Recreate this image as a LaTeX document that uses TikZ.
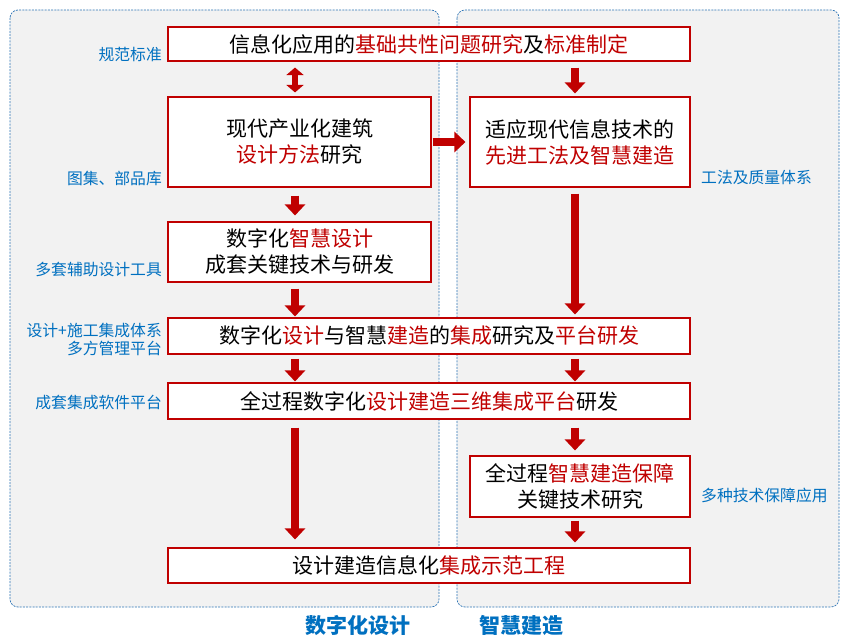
\documentclass[tikz,border=0pt]{standalone}
\usepackage{fontspec}
\setmainfont{Noto Sans CJK SC}
\usetikzlibrary{arrows.meta}
\definecolor{myred}{HTML}{C00000}
\definecolor{myblue}{HTML}{0070C0}
\definecolor{panelfill}{HTML}{F2F2F2}
\definecolor{panelline}{HTML}{2E75B6}
\newcommand\hl[1]{\textcolor{myred}{#1}}
\begin{document}
\begin{tikzpicture}[x=1pt,y=-1pt,
  panel/.style={draw=panelline, fill=panelfill, line width=0.7pt, dash pattern=on 2pt off 1.2pt, rounded corners=8pt},
  box/.style={draw=myred, fill=white, line width=1.1pt, inner sep=0pt, align=center,
     font=\fontsize{21}{26}\selectfont},
  side/.style={text=myblue, inner sep=0pt, font=\fontsize{15.8}{18}\selectfont},
  title/.style={text=myblue, inner sep=0pt, font=\fontsize{21}{24}\selectfont\bfseries},
  bigarrow/.style={draw=myred, line width=8pt, -{Triangle[width=20pt,length=11pt]}},
  dblarrow/.style={draw=myred, line width=6pt, {Triangle[width=17pt,length=7.5pt]}-{Triangle[width=17pt,length=7.5pt]}}
]
\useasboundingbox (0,0) rectangle (850,644);
\fill[white] (0,0) rectangle (850,644);
% panels
\draw[panel] (10,10) rectangle (439,607);
\draw[panel] (457,10) rectangle (839,607);
% columns
\coordinate (colL) at (295,0);
\coordinate (colR) at (575,0);
% boxes
\node[box, minimum width=522pt, minimum height=34pt] (b1) at (429,44)
  {信息化应用的\hl{基础共性问题研究}及\hl{标准制定}};
\node[box, minimum width=263pt, minimum height=90pt] (b2) at (299.5,142)
  {现代产业化建筑\\\hl{设计方法}研究};
\node[box, minimum width=220pt, minimum height=90pt] (b3) at (580,142)
  {适应现代信息技术的\\\hl{先进工法及智慧建造}};
\node[box, minimum width=263pt, minimum height=60pt] (b4) at (299.5,252)
  {数字化\hl{智慧设计}\\成套关键技术与研发};
\node[box, minimum width=522pt, minimum height=36pt] (b5) at (429,336)
  {数字化\hl{设计}与智慧\hl{建造}的\hl{集成}研究及\hl{平台研发}};
\node[box, minimum width=522pt, minimum height=36pt] (b6) at (429,401)
  {全过程数字化\hl{设计建造三维集成平台}研发};
\node[box, minimum width=220pt, minimum height=61pt] (b7) at (580,486.5)
  {全过程\hl{智慧建造保障}\\关键技术研究};
\node[box, minimum width=522pt, minimum height=35pt] (b8) at (429,565.5)
  {设计建造信息化\hl{集成示范工程}};
% arrows
\draw[dblarrow, shorten <=6pt, shorten >=4pt] (b1.south -| colL) -- (b2.north -| colL);
\draw[bigarrow, shorten <=6pt, shorten >=3pt] (b1.south -| colR) -- (b3.north -| colR);
\draw[bigarrow, shorten <=1pt, shorten >=4pt] (b2.east) -- (b3.west);
\draw[bigarrow, shorten <=8pt, shorten >=6pt] (b2.south -| colL) -- (b4.north -| colL);
\draw[bigarrow, shorten <=6pt, shorten >=1pt] (b4.south -| colL) -- (b5.north -| colL);
\draw[bigarrow, shorten <=6pt, shorten >=3pt] (b3.south -| colR) -- (b5.north -| colR);
\draw[bigarrow, shorten <=4pt, shorten >=1pt] (b5.south -| colL) -- (b6.north -| colL);
\draw[bigarrow, shorten <=4pt, shorten >=1pt] (b5.south -| colR) -- (b6.north -| colR);
\draw[bigarrow, shorten <=8pt, shorten >=8pt] (b6.south -| colL) -- (b8.north -| colL);
\draw[bigarrow, shorten <=8pt, shorten >=5pt] (b6.south -| colR) -- (b7.north -| colR);
\draw[bigarrow, shorten <=3pt, shorten >=5pt] (b7.south -| colR) -- (b8.north -| colR);
% side labels
\node[side, anchor=east] (s1) at (162,54) {规范标准};
\node[side, anchor=east] (s2) at (162,179) {图集、部品库};
\node[side, anchor=east] (s3) at (162,270) {多套辅助设计工具};
\node[side, anchor=east, align=right] (s4) at (162,339) {设计+施工集成体系\\多方管理平台};
\node[side, anchor=east] (s5) at (162,403) {成套集成软件平台};
\node[side, anchor=west] (s6) at (701,177) {工法及质量体系};
\node[side, anchor=west] (s7) at (701,495) {多种技术保障应用};
\node[title] (t1) at (358,625) {数字化设计};
\node[title] (t2) at (521,625) {智慧建造};
\end{tikzpicture}
\end{document}
